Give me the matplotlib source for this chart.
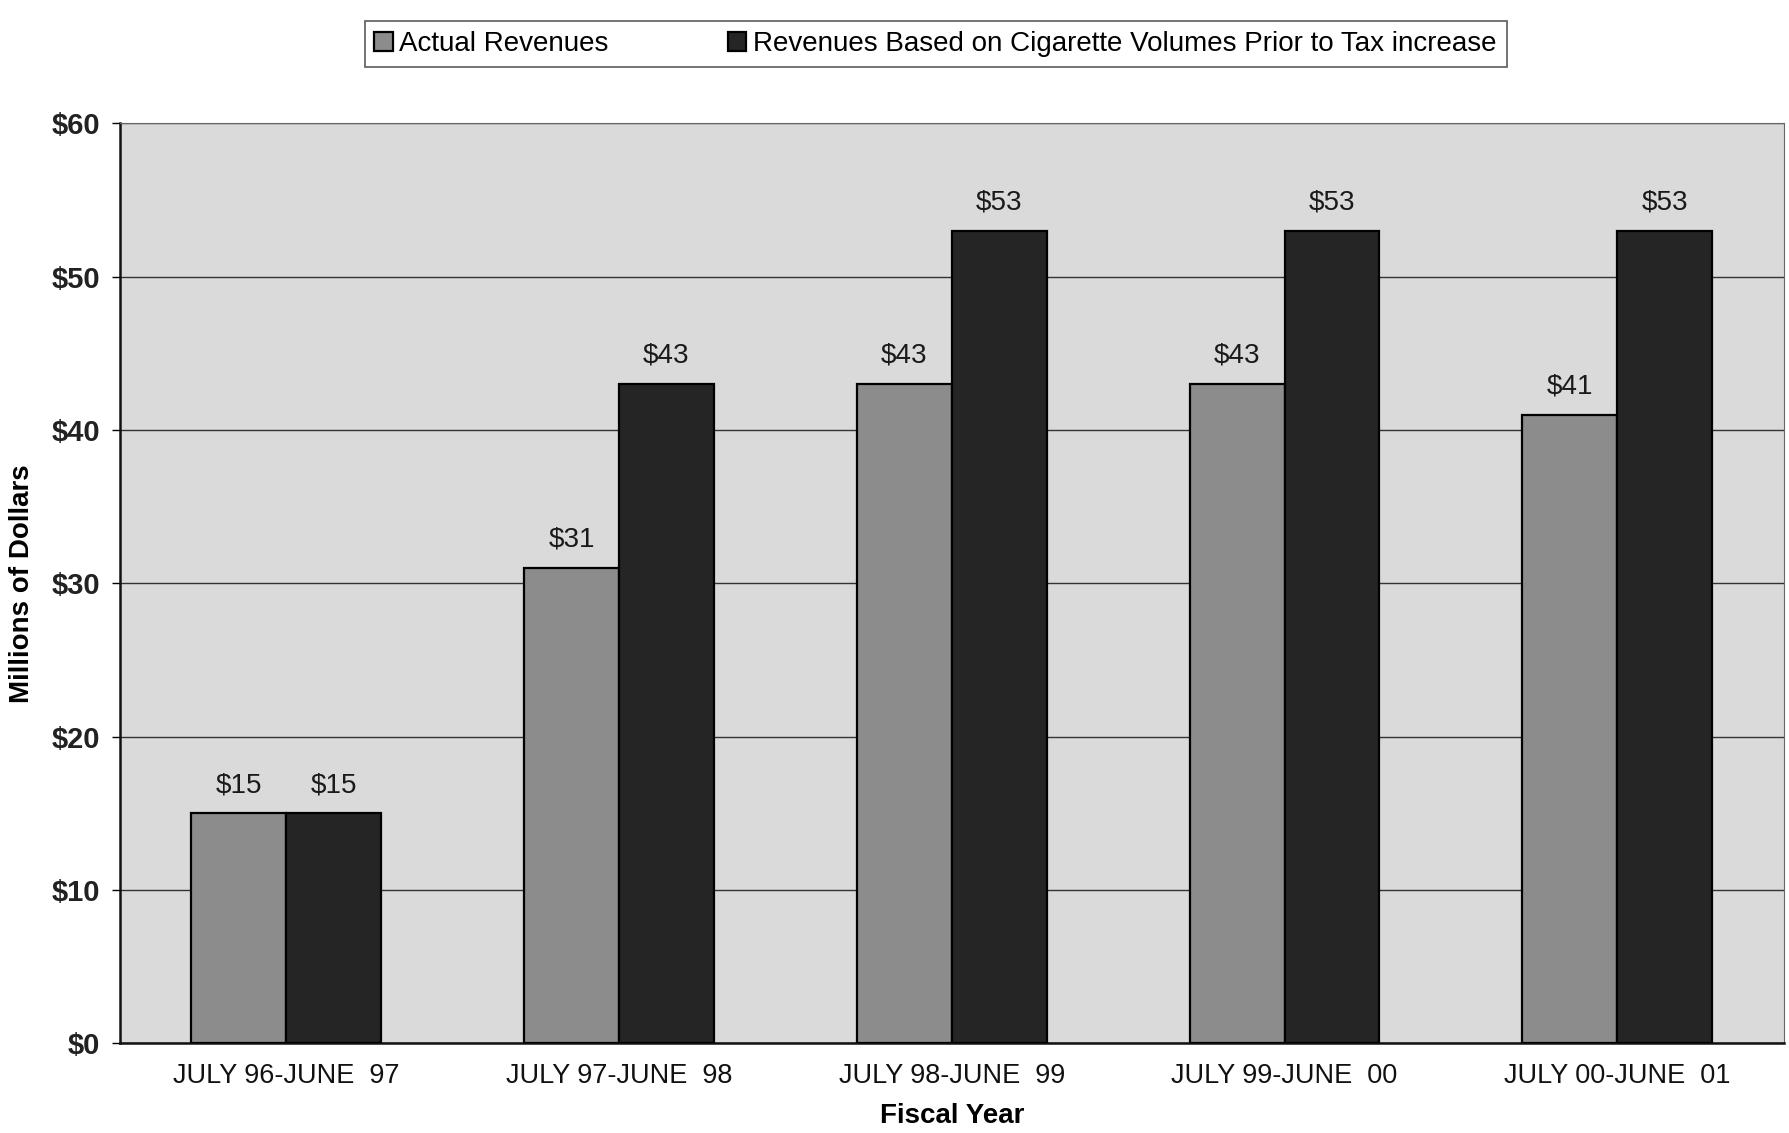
import matplotlib
matplotlib.use("Agg")
import matplotlib.pyplot as plt
import numpy as np

# revenue data, millions of dollars
years = ["JULY 96-JUNE  97", "JULY 97-JUNE  98", "JULY 98-JUNE  99",
         "JULY 99-JUNE  00", "JULY 00-JUNE  01"]
actual = [15, 31, 43, 43, 41]
prior_volume = [15, 43, 53, 53, 53]
y_ticks = [0, 10, 20, 30, 40, 50, 60]

ARIAL = ["Liberation Sans", "DejaVu Sans"]

fig = plt.figure(figsize=(17.89, 11.33), dpi=100)
ax = fig.add_axes([0.067, 0.079, 0.93, 0.812])
ax.set_facecolor("#dadada")

x = np.arange(len(years))
w = 0.285
b1 = ax.bar(x - w / 2, actual, w, color="#8c8c8c", edgecolor="black",
            linewidth=1.6, label="Actual Revenues", zorder=3)
b2 = ax.bar(x + w / 2, prior_volume, w, color="#252525", edgecolor="black",
            linewidth=1.6,
            label="Revenues Based on Cigarette Volumes Prior to Tax increase",
            zorder=3)

for bars, vals in ((b1, actual), (b2, prior_volume)):
    for r, v in zip(bars, vals):
        ax.text(r.get_x() + r.get_width() / 2, v + 1.0, f"${v}",
                ha="center", va="bottom", fontsize=20, family=ARIAL,
                color="#1a1a1a")

ax.set_xlim(-0.5, 4.5)
ax.set_ylim(0, 60)
ax.set_yticks(y_ticks)
ax.set_yticklabels([f"${t}" for t in y_ticks], fontsize=21,
                   fontweight="bold", family=ARIAL, color="#222222")
ax.set_xticks(x)
ax.set_xticklabels(years, fontsize=19.5, family=ARIAL, color="#111111")
ax.tick_params(axis="x", length=0, pad=14)
ax.tick_params(axis="y", length=6, width=1, pad=8)
ax.yaxis.grid(True, color="#333333", linewidth=1.0, zorder=1)
ax.set_axisbelow(True)

for side in ("left", "bottom"):
    ax.spines[side].set_linewidth(1.8)
    ax.spines[side].set_color("#111111")
for side in ("top", "right"):
    ax.spines[side].set_linewidth(0.8)
    ax.spines[side].set_color("#666666")

ax.set_ylabel("Millions of Dollars", fontsize=20, fontweight="bold",
              family=ARIAL, labelpad=12)
ax.set_xlabel("Fiscal Year", fontsize=20, fontweight="bold",
              family=ARIAL, labelpad=10)

leg = fig.legend(handles=[b1, b2], loc="center", ncol=2,
                 bbox_to_anchor=(0.523, 0.961), frameon=True,
                 fancybox=False, edgecolor="#333333", handlelength=0.65,
                 handleheight=0.65, handletextpad=0.25, columnspacing=4.3,
                 borderpad=0.35, prop={"family": ARIAL, "size": 20})
leg.get_frame().set_linewidth(1.2)

fig.savefig("out.png", dpi=100, facecolor="white")
